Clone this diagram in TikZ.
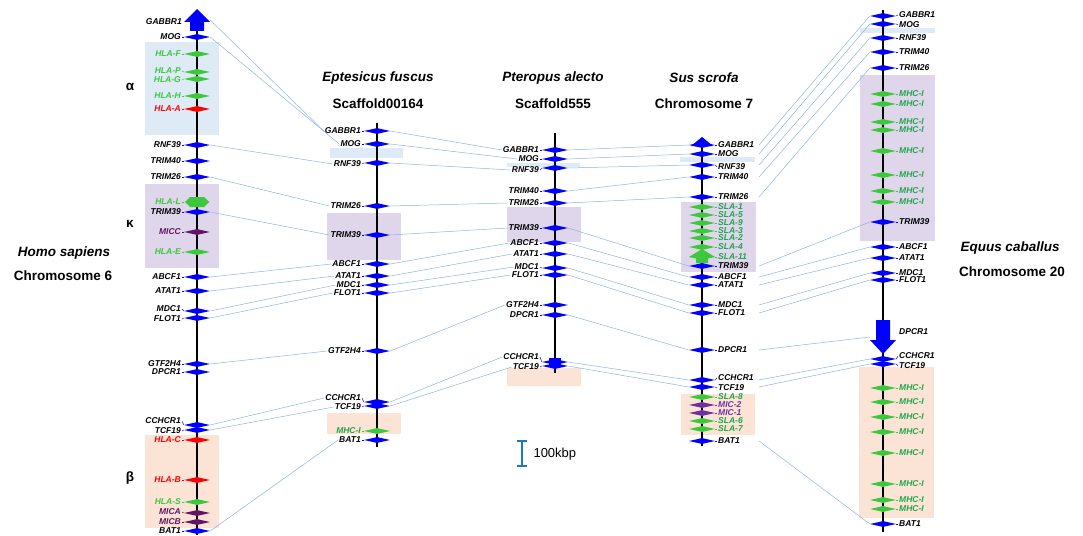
\documentclass[tikz,border=0pt]{standalone}
\usepackage{fontspec}
\setmainfont{Liberation Sans}
\usetikzlibrary{shapes.geometric}
\definecolor{gblue}{RGB}{0,0,255}
\definecolor{ggreen}{RGB}{60,200,60}
\definecolor{tgreen}{RGB}{30,165,75}
\definecolor{gred}{RGB}{255,0,0}
\definecolor{gpurple}{RGB}{100,20,100}
\definecolor{tpurple}{RGB}{112,48,160}
\definecolor{clink}{RGB}{140,180,225}
\definecolor{boxblue}{RGB}{222,234,246}
\definecolor{boxpurple}{RGB}{224,214,236}
\definecolor{boxorange}{RGB}{251,228,214}
\definecolor{cscale}{RGB}{30,120,200}
\begin{document}
\begin{tikzpicture}[x=1pt,y=-1pt,
  mk/.style={diamond,fill=#1,draw=none,minimum width=26pt,minimum height=6pt,inner sep=0pt},
  lbl/.style={font=\fontsize{8.5}{9}\selectfont\bfseries\itshape,inner sep=1pt},
  ttl/.style={font=\fontsize{13.5}{15}\selectfont\bfseries},
  link/.style={draw=clink,line width=0.5pt},
  chrom/.style={line width=2.2pt}]
\useasboundingbox (0,0) rectangle (1083,535);
% gene with label on the left / on the right
\def\gl#1#2#3#4#5#6#7{%
 \fill[#4] (#2-5,#3-2) rectangle (#2+5,#3+2);
 \node[mk=#4] (#1) at (#2,#3) {};
 \node[lbl,text=#5,anchor=east,yshift=#7pt] (#1l) at (#2-15,#3) {#6};
 \draw[#4,line width=0.5pt] (#1l.east) -- (#1.west);}
\def\gr#1#2#3#4#5#6#7{%
 \fill[#4] (#2-5,#3-2) rectangle (#2+5,#3+2);
 \node[mk=#4] (#1) at (#2,#3) {};
 \node[lbl,text=#5,anchor=west,yshift=#7pt] (#1l) at (#2+15,#3) {#6};
 \draw[#4,line width=0.5pt] (#1.east) -- (#1l.west);}
% regions
\fill[boxblue] (145,42) rectangle (219,135);
\fill[boxpurple] (145,184) rectangle (219,268);
\fill[boxorange] (145,435) rectangle (219,528);
\fill[boxblue] (330,148) rectangle (403,158);
\fill[boxpurple] (327,213) rectangle (401,260);
\fill[boxorange] (327,413) rectangle (401,434);
\fill[boxblue] (507,163) rectangle (580,167);
\fill[boxpurple] (507,207) rectangle (581,242);
\fill[boxorange] (507,368) rectangle (581,386);
\fill[boxblue] (680,157) rectangle (755,162);
\fill[boxpurple] (681,202) rectangle (756,272);
\fill[boxorange] (681,394) rectangle (755,435);
\fill[boxblue] (860,28) rectangle (935,33);
\fill[boxpurple] (860,75) rectangle (935,241);
\fill[boxorange] (859,367) rectangle (934,518);
% chromosomes
\draw[chrom] (197,12) -- (197,535);
\draw[chrom] (377,123) -- (377,447);
\draw[chrom] (555,133) -- (555,373);
\draw[chrom] (702,138) -- (702,446);
\draw[chrom] (883,10) -- (883,532);
% titles
\node[ttl] (hsname) at (64,253) {\itshape Homo sapiens};
\node[ttl] (hschr) at (63,276) {Chromosome 6};
\node[ttl] (efname) at (378,78) {\itshape Eptesicus fuscus};
\node[ttl] (efchr) at (378,104) {Scaffold00164};
\node[ttl] (paname) at (553,78) {\itshape Pteropus alecto};
\node[ttl] (pachr) at (553,104) {Scaffold555};
\node[ttl] (ssname) at (704,78) {\itshape Sus scrofa};
\node[ttl] (sschr) at (704,104) {Chromosome 7};
\node[ttl] (ecname) at (1010,248) {\itshape Equus caballus};
\node[ttl] (ecchr) at (1012,272) {Chromosome 20};
\node[ttl] (alpha) at (130,87) {α};
\node[ttl] (kappa) at (130,224) {κ};
\node[ttl] (beta) at (130,478) {β};
% Homo sapiens
\node[minimum width=26pt,minimum height=22pt,inner sep=0pt] (hsGABBR1) at (197,20) {};
\fill[gblue] (184,22) -- (197,9) -- (210,22) -- (204,22) -- (204,31) -- (190,31) -- (190,22) -- cycle;
\node[lbl,anchor=east] (hsGABBR1l) at (183,22) {GABBR1};
\gl{hsMOG}{197}{37}{gblue}{black}{MOG}{0}
\gl{hsHLAF}{197}{54}{ggreen}{ggreen}{HLA-F}{0}
\gl{hsHLAP}{197}{72}{ggreen}{ggreen}{HLA-P}{1}
\gl{hsHLAG}{197}{79}{ggreen}{ggreen}{HLA-G}{-1}
\gl{hsHLAH}{197}{96}{ggreen}{ggreen}{HLA-H}{0}
\gl{hsHLAA}{197}{109}{gred}{gred}{HLA-A}{0}
\gl{hsRNF39}{197}{145}{gblue}{black}{RNF39}{0}
\gl{hsTRIM40}{197}{161}{gblue}{black}{TRIM40}{0}
\gl{hsTRIM26}{197}{177}{gblue}{black}{TRIM26}{0}
\gl{hsHLAL}{197}{202}{ggreen}{ggreen}{HLA-L}{0}
\fill[ggreen] (190,197) -- (204,197) -- (209,202) -- (204,207) -- (190,207) -- (185,202) -- cycle;
\gl{hsTRIM39}{197}{212}{gblue}{black}{TRIM39}{0}
\gl{hsMICC}{197}{232}{gpurple}{gpurple}{MICC}{0}
\gl{hsHLAE}{197}{252}{ggreen}{ggreen}{HLA-E}{0}
\gl{hsABCF1}{197}{277}{gblue}{black}{ABCF1}{0}
\gl{hsATAT1}{197}{291}{gblue}{black}{ATAT1}{0}
\gl{hsMDC1}{197}{311}{gblue}{black}{MDC1}{2}
\gl{hsFLOT1}{197}{318}{gblue}{black}{FLOT1}{-1}
\gl{hsGTF2H4}{197}{364}{gblue}{black}{GTF2H4}{0}
\gl{hsDPCR1}{197}{372}{gblue}{black}{DPCR1}{0}
\gl{hsCCHCR1}{197}{425}{gblue}{black}{CCHCR1}{4}
\gl{hsTCF19}{197}{430}{gblue}{black}{TCF19}{-1}
\gl{hsHLAC}{197}{440}{gred}{gred}{HLA-C}{0}
\gl{hsHLAB}{197}{480}{gred}{gred}{HLA-B}{0}
\gl{hsHLAS}{197}{502}{ggreen}{ggreen}{HLA-S}{0}
\gl{hsMICA}{197}{513}{gpurple}{gpurple}{MICA}{1}
\gl{hsMICB}{197}{522}{gpurple}{gpurple}{MICB}{0}
\gl{hsBAT1}{197}{531}{gblue}{black}{BAT1}{0}
% Eptesicus fuscus
\gl{efGABBR1}{377}{131}{gblue}{black}{GABBR1}{0}
\gl{efMOG}{377}{144}{gblue}{black}{MOG}{0}
\gl{efRNF39}{377}{163}{gblue}{black}{RNF39}{-1}
\gl{efTRIM26}{377}{206}{gblue}{black}{TRIM26}{0}
\gl{efTRIM39}{377}{235}{gblue}{black}{TRIM39}{0}
\gl{efABCF1}{377}{264}{gblue}{black}{ABCF1}{0}
\gl{efATAT1}{377}{276}{gblue}{black}{ATAT1}{0}
\gl{efMDC1}{377}{285}{gblue}{black}{MDC1}{0}
\gl{efFLOT1}{377}{293}{gblue}{black}{FLOT1}{0}
\gl{efGTF2H4}{377}{351}{gblue}{black}{GTF2H4}{0}
\gl{efCCHCR1}{377}{402}{gblue}{black}{CCHCR1}{4}
\gl{efTCF19}{377}{406}{gblue}{black}{TCF19}{-1}
\gl{efMHC}{377}{431}{ggreen}{tgreen}{MHC-I}{0}
\gl{efBAT1}{377}{440}{gblue}{black}{BAT1}{0}
% Pteropus alecto
\gl{paGABBR1}{555}{150}{gblue}{black}{GABBR1}{0}
\gl{paMOG}{555}{159}{gblue}{black}{MOG}{0}
\gl{paRNF39}{555}{168}{gblue}{black}{RNF39}{-2}
\gl{paTRIM40}{555}{191}{gblue}{black}{TRIM40}{0}
\gl{paTRIM26}{555}{203}{gblue}{black}{TRIM26}{0}
\gl{paTRIM39}{555}{228}{gblue}{black}{TRIM39}{0}
\gl{paABCF1}{555}{243}{gblue}{black}{ABCF1}{0}
\gl{paATAT1}{555}{254}{gblue}{black}{ATAT1}{0}
\gl{paMDC1}{555}{268}{gblue}{black}{MDC1}{1}
\gl{paFLOT1}{555}{275}{gblue}{black}{FLOT1}{0}
\gl{paGTF2H4}{555}{305}{gblue}{black}{GTF2H4}{0}
\gl{paDPCR1}{555}{315}{gblue}{black}{DPCR1}{0}
\gl{paCCHCR1}{555}{362}{gblue}{black}{CCHCR1}{5}
\fill[gblue] (549,358) rectangle (561,366);
\gl{paTCF19}{555}{366}{gblue}{black}{TCF19}{-1}
% Sus scrofa
\gr{ssGABBR1}{702}{145}{gblue}{black}{GABBR1}{0}
\fill[gblue] (691,146) -- (702,137) -- (713,146) -- cycle;
\gr{ssMOG}{702}{154}{gblue}{black}{MOG}{0}
\gr{ssRNF39}{702}{165}{gblue}{black}{RNF39}{-2}
\gr{ssTRIM40}{702}{177}{gblue}{black}{TRIM40}{0}
\gr{ssTRIM26}{702}{197}{gblue}{black}{TRIM26}{0}
\gr{ssSLAa}{702}{207}{ggreen}{tgreen}{SLA-1}{0}
\gr{ssSLAb}{702}{215}{ggreen}{tgreen}{SLA-5}{0}
\gr{ssSLAc}{702}{223}{ggreen}{tgreen}{SLA-9}{0}
\gr{ssSLAd}{702}{231}{ggreen}{tgreen}{SLA-3}{0}
\gr{ssSLAe}{702}{238}{ggreen}{tgreen}{SLA-2}{0}
\gr{ssSLAf}{702}{247}{ggreen}{tgreen}{SLA-4}{0}
\gr{ssSLAg}{702}{257}{ggreen}{tgreen}{SLA-11}{0}
\fill[ggreen] (689,257) -- (702,249) -- (715,257) -- (708,257) -- (708,263) -- (696,263) -- (696,257) -- cycle;
\gr{ssTRIM39}{702}{266}{gblue}{black}{TRIM39}{0}
\gr{ssABCF1}{702}{277}{gblue}{black}{ABCF1}{0}
\gr{ssATAT1}{702}{285}{gblue}{black}{ATAT1}{0}
\gr{ssMDC1}{702}{305}{gblue}{black}{MDC1}{0}
\gr{ssFLOT1}{702}{313}{gblue}{black}{FLOT1}{0}
\gr{ssDPCR1}{702}{350}{gblue}{black}{DPCR1}{0}
\gr{ssCCHCR1}{702}{380}{gblue}{black}{CCHCR1}{2}
\gr{ssTCF19}{702}{387}{gblue}{black}{TCF19}{-1}
\gr{ssSLAh}{702}{397}{ggreen}{tgreen}{SLA-8}{0}
\gr{ssMICb}{702}{405}{tpurple}{tpurple}{MIC-2}{0}
\gr{ssMICa}{702}{413}{tpurple}{tpurple}{MIC-1}{0}
\gr{ssSLAi}{702}{421}{ggreen}{tgreen}{SLA-6}{0}
\gr{ssSLAj}{702}{429}{ggreen}{tgreen}{SLA-7}{0}
\gr{ssBAT1}{702}{441}{gblue}{black}{BAT1}{0}
\coordinate (ssR) at (759,0);
% Equus caballus
\gr{ecGABBR1}{883}{16}{gblue}{black}{GABBR1}{1}
\gr{ecMOG}{883}{24}{gblue}{black}{MOG}{-1}
\gr{ecRNF39}{883}{38}{gblue}{black}{RNF39}{0}
\gr{ecTRIM40}{883}{52}{gblue}{black}{TRIM40}{0}
\gr{ecTRIM26}{883}{68}{gblue}{black}{TRIM26}{0}
\foreach \y [count=\i] in {94,104,122,130,151,175,191,202}
  {\gr{ecMHCa\i}{883}{\y}{ggreen}{tgreen}{MHC-I}{0}}
\gr{ecTRIM39}{883}{222}{gblue}{black}{TRIM39}{0}
\gr{ecABCF1}{883}{247}{gblue}{black}{ABCF1}{0}
\gr{ecATAT1}{883}{258}{gblue}{black}{ATAT1}{0}
\gr{ecMDC1}{883}{273}{gblue}{black}{MDC1}{0}
\gr{ecFLOT1}{883}{280}{gblue}{black}{FLOT1}{0}
\node[minimum width=26pt,minimum height=33pt,inner sep=0pt] (ecDPCR1) at (883,337) {};
\fill[gblue] (876,320) -- (890,320) -- (890,340) -- (896,340) -- (883,354) -- (870,340) -- (876,340) -- cycle;
\node[lbl,anchor=west] (ecDPCR1l) at (898,332) {DPCR1};
\gr{ecCCHCR1}{883}{359}{gblue}{black}{CCHCR1}{3}
\gr{ecTCF19}{883}{364}{gblue}{black}{TCF19}{-2}
\foreach \y [count=\i] in {388,402,417,432,453,484,500,509}
  {\gr{ecMHCb\i}{883}{\y}{ggreen}{tgreen}{MHC-I}{0}}
\gr{ecBAT1}{883}{524}{gblue}{black}{BAT1}{0}
% links
\foreach \g in {GABBR1,MOG,RNF39,TRIM26,TRIM39,ABCF1,ATAT1,MDC1,FLOT1,GTF2H4,CCHCR1,TCF19,BAT1}
  \draw[link] (hs\g.east) -- (ef\g l.west);
\foreach \g in {GABBR1,MOG,RNF39,TRIM26,TRIM39,ABCF1,ATAT1,MDC1,FLOT1,GTF2H4,CCHCR1,TCF19}
  \draw[link] (ef\g.east) -- (pa\g l.west);
\foreach \g in {GABBR1,MOG,RNF39,TRIM40,TRIM26,TRIM39,ABCF1,ATAT1,MDC1,FLOT1,DPCR1,CCHCR1,TCF19}
  \draw[link] (pa\g.east) -- (ss\g.west);
\foreach \g in {GABBR1,MOG,RNF39,TRIM40,TRIM26,TRIM39,ABCF1,ATAT1,MDC1,FLOT1,DPCR1,CCHCR1,TCF19,BAT1}
  \draw[link] (ss\g -| ssR) -- (ec\g.west);
% scale
\draw[cscale,line width=1.3pt] (517,441) -- (527,441) (522,441) -- (522,466) (517,466) -- (527,466);
\node[font=\fontsize{13}{15}\selectfont,anchor=west] (sclbl) at (530,454) {100kbp};
\end{tikzpicture}
\end{document}
